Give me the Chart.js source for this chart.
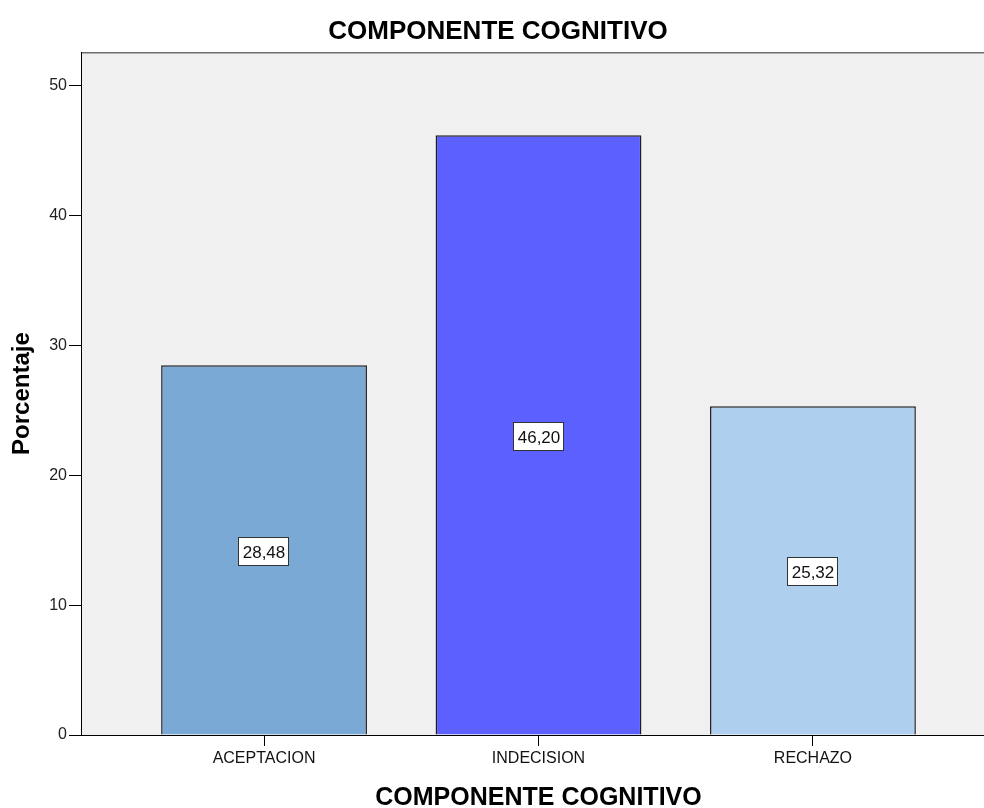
<!DOCTYPE html>
<html>
<head>
<meta charset="utf-8">
<script src="https://cdn.jsdelivr.net/npm/chart.js@4/dist/chart.umd.min.js"></script>
<style>
  html, body { margin: 0; padding: 0; background: #fff; overflow: hidden; }
  #wrap { width: 984px; height: 808px; overflow: hidden; }
  #box { width: 1000px; height: 808px; }
</style>
</head>
<body>
<div id="wrap"><div id="box"><canvas id="c"></canvas></div></div>
<script>
// Categories and their percentages
const categories = ['ACEPTACION', 'INDECISION', 'RECHAZO'];
const percentages = [28.48, 46.20, 25.32];
const barColors = ['#7BA9D6', '#5B60FF', '#AECFED'];
const yTicks = [0, 10, 20, 30, 40, 50];
const chartTitle = 'COMPONENTE COGNITIVO';
const xTitle = 'COMPONENTE COGNITIVO';
const yTitle = 'Porcentaje';

const FONT = "Arial, 'Liberation Sans', sans-serif";

// Light grey plot panel with a top frame line
const panelPlugin = {
  id: 'panel',
  beforeDraw(chart) {
    const { ctx, chartArea: a } = chart;
    ctx.save();
    ctx.fillStyle = '#F0F0F0';
    ctx.fillRect(a.left, a.top, a.right - a.left, a.bottom - a.top);
    ctx.strokeStyle = '#6E6E6E';
    ctx.lineWidth = 1.5;
    ctx.beginPath();
    ctx.moveTo(a.left, a.top + 0.5);
    ctx.lineTo(a.right, a.top + 0.5);
    ctx.stroke();
    ctx.restore();
  }
};

// Boxed value label in the middle of each bar
const valueBoxPlugin = {
  id: 'valueBox',
  afterDatasetsDraw(chart) {
    const { ctx } = chart;
    const meta = chart.getDatasetMeta(0);
    ctx.save();
    ctx.font = '17px ' + FONT;
    ctx.textAlign = 'center';
    ctx.textBaseline = 'middle';
    meta.data.forEach((bar, i) => {
      const text = percentages[i].toFixed(2).replace('.', ',');
      const w = Math.round(ctx.measureText(text).width) + 8;
      const h = 29;
      const cx = Math.round(bar.x);
      const cy = Math.round((bar.y + bar.base) / 2) + 2;
      const x0 = cx - Math.round(w / 2), y0 = cy - Math.round(h / 2);
      ctx.fillStyle = '#FFFFFF';
      ctx.fillRect(x0, y0, w, h);
      ctx.strokeStyle = '#333333';
      ctx.lineWidth = 1;
      ctx.strokeRect(x0 + 0.5, y0 + 0.5, w - 1, h - 1);
      ctx.fillStyle = '#111111';
      ctx.fillText(text, cx, cy + 1);
    });
    ctx.restore();
  }
};

new Chart(document.getElementById('c'), {
  type: 'bar',
  data: {
    datasets: [{
      data: percentages.map((v, i) => ({ x: i, y: v })),
      backgroundColor: barColors,
      borderColor: '#1E1E1E',
      borderWidth: 1.5,
      barPercentage: 0.75,
      categoryPercentage: 1.0
    }]
  },
  options: {
    responsive: true,
    maintainAspectRatio: false,
    animation: false,
    layout: { padding: { left: 0, right: 4, top: 0, bottom: 0 } },
    plugins: {
      legend: { display: false },
      tooltip: { enabled: false },
      title: {
        display: true,
        text: chartTitle,
        color: '#000',
        font: { family: FONT, size: 26, weight: 'bold', lineHeight: 1.2 },
        padding: { top: 16, bottom: 5 }
      }
    },
    scales: {
      x: {
        type: 'linear',
        offset: false,
        min: -0.667,
        max: 2.667,
        afterBuildTicks(scale) {
          scale.ticks = categories.map((_, i) => ({ value: i }));
        },
        afterFit(scale) { scale.height = 73; },
        ticks: {
          callback: (v) => categories[v] ?? '',
          color: '#111',
          font: { family: FONT, size: 16 },
          padding: 3,
          maxRotation: 0,
          autoSkip: false
        },
        grid: {
          offset: false,
          drawOnChartArea: false,
          drawTicks: true,
          tickLength: 11,
          tickColor: '#000',
          tickWidth: 1
        },
        border: { display: true, color: '#000', width: 1 },
        title: {
          display: true,
          text: xTitle,
          color: '#000',
          font: { family: FONT, size: 25, weight: 'bold', lineHeight: 1 },
          padding: { top: 0, bottom: -3 }
        }
      },
      y: {
        type: 'linear',
        min: 0,
        max: 52.6,
        afterBuildTicks(scale) {
          scale.ticks = yTicks.map(v => ({ value: v }));
        },
        afterFit(scale) { scale.width = 81; },
        ticks: {
          color: '#222',
          font: { family: FONT, size: 16 },
          padding: 2
        },
        grid: {
          drawOnChartArea: false,
          drawTicks: true,
          tickLength: 12,
          tickColor: '#000',
          tickWidth: 1
        },
        border: { display: true, color: '#000', width: 1 },
        title: {
          display: true,
          text: yTitle,
          color: '#000',
          font: { family: FONT, size: 24, weight: 'bold', lineHeight: 1.2 },
          padding: { top: 8, bottom: 0 }
        }
      }
    }
  },
  plugins: [panelPlugin, valueBoxPlugin]
});
</script>
</body>
</html>
